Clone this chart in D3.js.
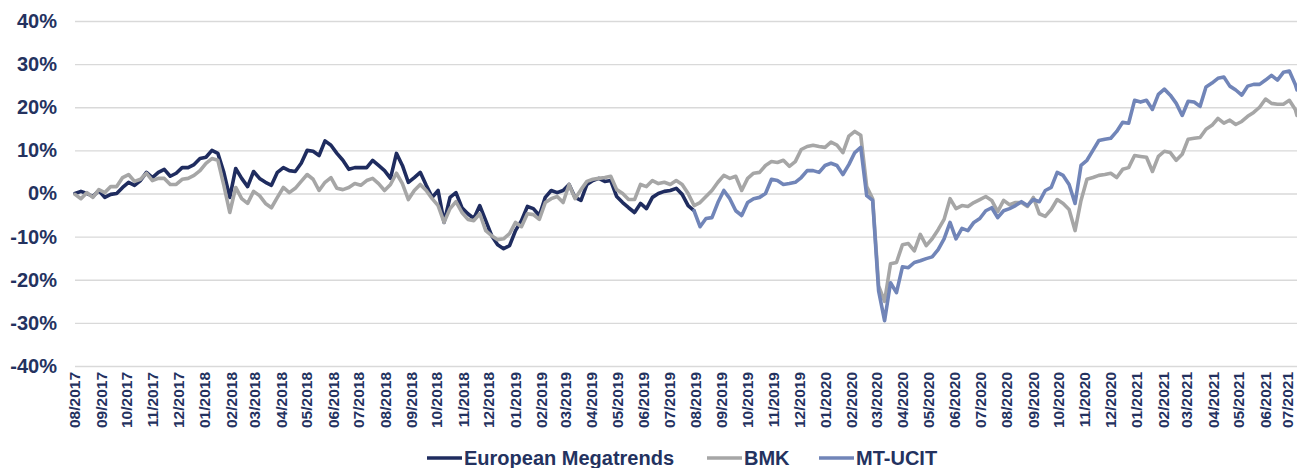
<!DOCTYPE html>
<html>
<head>
<meta charset="utf-8">
<script src="https://cdn.jsdelivr.net/npm/d3@7"></script>
<style>
  html, body { margin: 0; padding: 0; background: #ffffff; }
  svg { display: block; }
  text { font-family: "Liberation Sans", Arial, sans-serif; font-weight: bold; fill: #24325f; }
</style>
</head>
<body>
<svg id="chart" width="1297" height="468"></svg>
<script>
// ---------- DATA ----------
const dates = [
"2017-08-01","2017-08-08","2017-08-15","2017-08-22","2017-08-29",
"2017-09-05","2017-09-12","2017-09-19","2017-09-26",
"2017-10-03","2017-10-10","2017-10-17","2017-10-24","2017-10-31",
"2017-11-07","2017-11-14","2017-11-21","2017-11-28",
"2017-12-05","2017-12-12","2017-12-19","2017-12-26",
"2018-01-02","2018-01-09","2018-01-16","2018-01-23","2018-01-30",
"2018-02-06","2018-02-13","2018-02-20","2018-02-27",
"2018-03-06","2018-03-13","2018-03-20","2018-03-27",
"2018-04-03","2018-04-10","2018-04-17","2018-04-24",
"2018-05-01","2018-05-08","2018-05-15","2018-05-22","2018-05-29",
"2018-06-05","2018-06-12","2018-06-19","2018-06-26",
"2018-07-03","2018-07-10","2018-07-17","2018-07-24","2018-07-31",
"2018-08-07","2018-08-14","2018-08-21","2018-08-28",
"2018-09-04","2018-09-11","2018-09-18","2018-09-25",
"2018-10-02","2018-10-09","2018-10-16","2018-10-23","2018-10-30",
"2018-11-06","2018-11-13","2018-11-20","2018-11-27",
"2018-12-04","2018-12-11","2018-12-18","2018-12-25",
"2019-01-01","2019-01-08","2019-01-15","2019-01-22","2019-01-29",
"2019-02-05","2019-02-12","2019-02-19","2019-02-26",
"2019-03-05","2019-03-12","2019-03-19","2019-03-26",
"2019-04-02","2019-04-09","2019-04-16","2019-04-23","2019-04-30",
"2019-05-07","2019-05-14","2019-05-21","2019-05-28",
"2019-06-04","2019-06-11","2019-06-18","2019-06-25",
"2019-07-02","2019-07-09","2019-07-16","2019-07-23","2019-07-30",
"2019-08-06","2019-08-13","2019-08-20","2019-08-27",
"2019-09-03","2019-09-10","2019-09-17","2019-09-24",
"2019-10-01","2019-10-08","2019-10-15","2019-10-22","2019-10-29",
"2019-11-05","2019-11-12","2019-11-19","2019-11-26",
"2019-12-03","2019-12-10","2019-12-17","2019-12-24","2019-12-31",
"2020-01-07","2020-01-14","2020-01-21","2020-01-28",
"2020-02-04","2020-02-11","2020-02-18","2020-02-25",
"2020-03-03","2020-03-10","2020-03-17","2020-03-24","2020-03-31",
"2020-04-07","2020-04-14","2020-04-21","2020-04-28",
"2020-05-05","2020-05-12","2020-05-19","2020-05-26",
"2020-06-02","2020-06-09","2020-06-16","2020-06-23","2020-06-30",
"2020-07-07","2020-07-14","2020-07-21","2020-07-28",
"2020-08-04","2020-08-11","2020-08-18","2020-08-25",
"2020-09-01","2020-09-08","2020-09-15","2020-09-22","2020-09-29",
"2020-10-06","2020-10-13","2020-10-20","2020-10-27",
"2020-11-03","2020-11-10","2020-11-17","2020-11-24",
"2020-12-01","2020-12-08","2020-12-15","2020-12-22","2020-12-29",
"2021-01-05","2021-01-12","2021-01-19","2021-01-26",
"2021-02-02","2021-02-09","2021-02-16","2021-02-23",
"2021-03-02","2021-03-09","2021-03-16","2021-03-23","2021-03-30",
"2021-04-06","2021-04-13","2021-04-20","2021-04-27",
"2021-05-04","2021-05-11","2021-05-18","2021-05-25",
"2021-06-01","2021-06-08","2021-06-15","2021-06-22","2021-06-29",
"2021-07-06","2021-07-08"
];

// European Megatrends (%), from 2017-08-01 to 2019-07-30
const europeanMegatrends = [
0.0, 0.5, 0.0, -0.7, 0.7, -0.9, -0.2, 0.0, 1.4, 2.6,
1.9, 3.0, 4.9, 3.7, 4.9, 5.6, 4.0, 4.7, 6.0, 6.0,
6.7, 8.1, 8.4, 10.0, 9.3, 4.9, -0.9, 5.8, 3.5, 1.6,
5.1, 3.5, 2.6, 1.9, 4.9, 6.0, 5.3, 5.1, 7.0, 10.0,
9.8, 8.8, 12.2, 11.2, 9.3, 7.7, 5.6, 6.0, 6.0, 6.0,
7.7, 6.5, 5.3, 3.5, 9.3, 6.5, 2.6, 3.7, 4.9, 1.9,
-0.9, 0.7, -6.7, -0.9, 0.2, -3.3, -4.7, -5.8, -2.8, -6.3,
-9.8, -11.9, -12.8, -12.1, -8.6, -6.3, -3.0, -3.5, -5.1, -0.9,
0.7, 0.2, 0.7, 2.1, -0.9, -1.6, 2.1, 3.0, 3.5, 2.8,
3.0, -0.7, -2.1, -3.3, -4.4, -2.3, -3.5, -0.9, 0.0, 0.5,
0.7, 1.2, -0.2, -2.8, -4.0
];

// BMK (%), full period
const bmk = [
-0.2, -1.2, 0.2, -0.9, 0.9, 0.2, 1.6, 1.6, 3.7, 4.4,
2.8, 3.3, 4.7, 3.0, 3.5, 3.5, 2.1, 2.1, 3.3, 3.5,
4.2, 5.3, 7.0, 8.1, 7.7, 1.9, -4.4, 1.4, -1.2, -2.3,
0.5, -0.5, -2.3, -3.3, -0.9, 1.4, 0.2, 1.2, 2.8, 4.4,
3.3, 0.7, 2.6, 3.7, 1.2, 0.9, 1.4, 2.3, 1.9, 3.0,
3.5, 2.3, 0.7, 2.1, 4.7, 2.3, -1.4, 0.7, 2.1, 0.7,
-1.2, -2.8, -6.7, -3.5, -1.9, -4.4, -6.0, -6.3, -4.7, -8.6,
-9.8, -10.7, -10.5, -9.3, -6.7, -7.7, -4.7, -4.9, -6.0, -2.1,
-1.2, -0.7, -2.1, 2.1, -1.2, 0.9, 2.8, 3.3, 3.5, 3.7,
4.0, 0.9, 0.0, -1.4, -1.4, 2.1, 1.6, 3.0, 2.3, 2.6,
2.1, 3.0, 2.1, 0.0, -2.8, -2.1, -0.7, 0.7, 2.6, 4.2,
3.5, 4.0, 0.7, 3.5, 4.7, 4.9, 6.5, 7.4, 7.2, 7.7,
6.3, 7.4, 10.2, 10.9, 11.2, 10.9, 10.7, 11.9, 11.2, 9.5,
13.3, 14.4, 13.5, 1.6, -1.2, -21.4, -25.0, -16.3, -16.0, -11.9,
-11.6, -13.3, -9.5, -12.1, -10.5, -8.4, -6.0, -1.2, -3.5, -2.8,
-3.0, -2.1, -1.4, -0.7, -1.6, -4.2, -1.6, -2.6, -2.1, -2.1,
-3.0, -0.9, -4.7, -5.3, -3.7, -1.4, -2.3, -3.7, -8.6, -1.6,
3.3, 3.7, 4.2, 4.4, 4.7, 3.7, 5.6, 6.0, 8.8, 8.6,
8.4, 5.1, 8.6, 9.8, 9.5, 7.7, 9.1, 12.6, 12.8, 13.0,
14.9, 15.8, 17.4, 16.3, 17.0, 16.0, 16.7, 17.9, 18.8, 20.0,
21.9, 20.9, 20.7, 20.7, 21.6, 19.5, 18.1
];

// MT-UCIT (%), from 2019-07-30 to the end
const mtUcitStart = "2019-07-30";
const mtUcit = [
-4.0, -7.7, -5.8, -5.6, -2.1, 0.7, -1.2, -4.0, -5.1, -2.1,
-1.2, -0.9, 0.0, 3.3, 3.0, 2.1, 2.3, 2.6, 3.7, 5.3,
5.3, 4.9, 6.5, 7.0, 6.5, 4.4, 6.7, 9.5, 10.7, -0.5,
-1.6, -22.6, -29.5, -20.7, -23.0, -17.0, -17.2, -16.0, -15.6, -15.1,
-14.7, -13.0, -10.5, -6.7, -10.5, -8.1, -8.6, -6.7, -5.8, -4.0,
-3.3, -5.6, -4.0, -3.5, -2.8, -1.9, -2.8, -1.4, -1.9, 0.7,
1.4, 4.9, 4.2, 2.1, -2.3, 6.5, 7.7, 10.0, 12.3, 12.6,
12.8, 14.4, 16.5, 16.3, 21.6, 21.2, 21.6, 19.5, 23.0, 24.2,
22.8, 20.9, 18.1, 21.4, 21.2, 20.2, 24.7, 25.6, 26.7, 27.0,
24.9, 24.0, 22.8, 24.9, 25.3, 25.3, 26.3, 27.4, 26.3, 28.1,
28.4, 25.3, 24.0
];

const monthLabels = [
"08/2017","09/2017","10/2017","11/2017","12/2017",
"01/2018","02/2018","03/2018","04/2018","05/2018","06/2018","07/2018","08/2018","09/2018","10/2018","11/2018","12/2018",
"01/2019","02/2019","03/2019","04/2019","05/2019","06/2019","07/2019","08/2019","09/2019","10/2019","11/2019","12/2019",
"01/2020","02/2020","03/2020","04/2020","05/2020","06/2020","07/2020","08/2020","09/2020","10/2020","11/2020","12/2020",
"01/2021","02/2021","03/2021","04/2021","05/2021","06/2021","07/2021"
];

const yTicks = [-40, -30, -20, -10, 0, 10, 20, 30, 40];

const seriesNames = ["European Megatrends", "BMK", "MT-UCIT"];
const seriesColors = ["#1f2c5f", "#a6a6a6", "#7185b8"];

// ---------- CHART ----------
const W = 1297, H = 468;
const plot = { left: 75, right: 1297, top: 21, bottom: 366 };

const parseDay = d3.timeParse("%Y-%m-%d");
const parseMonth = d3.timeParse("%m/%Y");
const dateObjs = dates.map(parseDay);

const x = d3.scaleTime()
  .domain([dateObjs[0], dateObjs[dateObjs.length - 1]])
  .range([plot.left, plot.right]);
const y = d3.scaleLinear().domain([-40, 40]).range([plot.bottom, plot.top]);

const svg = d3.select("#chart");

// gridlines + y labels
const yAxis = d3.axisLeft(y)
  .tickValues(yTicks)
  .tickSize(-(plot.right - plot.left))
  .tickPadding(18)
  .tickFormat(d => d + "%");
const gy = svg.append("g")
  .attr("transform", `translate(${plot.left},0)`)
  .call(yAxis);
gy.select(".domain").remove();
gy.selectAll(".tick line").attr("stroke", "#d9d9d9").attr("stroke-width", 1.3);
gy.selectAll(".tick text")
  .attr("font-size", 20)
  .attr("fill", "#24325f");

// x labels
const xAxis = d3.axisBottom(x)
  .tickValues(monthLabels.map(parseMonth))
  .tickSize(0)
  .tickFormat(d3.timeFormat("%m/%Y"));
const gx = svg.append("g")
  .attr("transform", `translate(0,${plot.bottom})`)
  .call(xAxis);
gx.select(".domain").remove();
const nLabels = monthLabels.length;
gx.selectAll(".tick text")
  .attr("font-size", 15.5)
  .attr("fill", "#24325f")
  .attr("transform", "rotate(-90)")
  .attr("text-anchor", "end")
  .attr("x", -6)
  .attr("y", 0)
  .attr("dy", (d, i) => i === nLabels - 1 ? "0.12em" : "0.3em");

// series data
const megaData = europeanMegatrends.map((v, i) => ({ date: dateObjs[i], v }));
const bmkData = bmk.map((v, i) => ({ date: dateObjs[i], v }));
const mtStartIdx = dates.indexOf(mtUcitStart);
const mtData = mtUcit.map((v, i) => ({ date: dateObjs[mtStartIdx + i], v }));

const line = d3.line()
  .x(d => x(d.date))
  .y(d => y(d.v))
  .curve(d3.curveLinear);

[megaData, bmkData, mtData].forEach((data, i) => {
  svg.append("path")
    .datum(data)
    .attr("fill", "none")
    .attr("stroke", seriesColors[i])
    .attr("stroke-width", 3.6)
    .attr("stroke-linejoin", "round")
    .attr("stroke-linecap", "round")
    .attr("d", line);
});

// legend
const legendItems = [
  { name: seriesNames[0], color: seriesColors[0], x0: 427 },
  { name: seriesNames[1], color: seriesColors[1], x0: 707 },
  { name: seriesNames[2], color: seriesColors[2], x0: 819 }
];
const legY = 458;
const lg = svg.append("g");
legendItems.forEach(it => {
  lg.append("line")
    .attr("x1", it.x0).attr("x2", it.x0 + 35)
    .attr("y1", legY).attr("y2", legY)
    .attr("stroke", it.color).attr("stroke-width", 3.5);
  lg.append("text")
    .attr("x", it.x0 + 37)
    .attr("y", legY)
    .attr("dy", "0.36em")
    .attr("font-size", 20)
    .text(it.name);
});
</script>
</body>
</html>
